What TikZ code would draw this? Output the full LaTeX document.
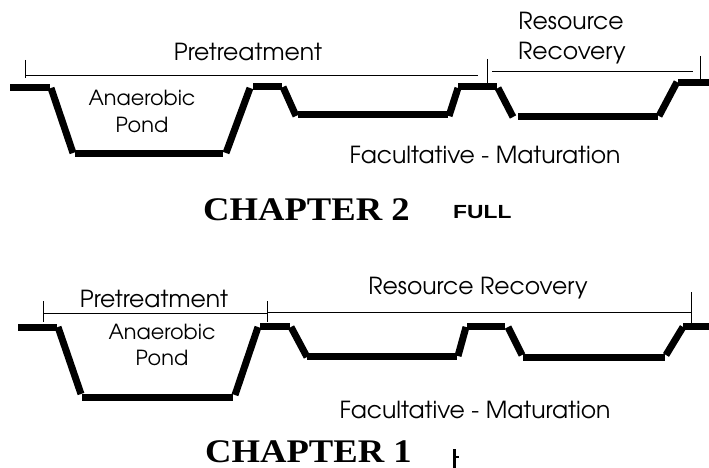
\documentclass[tikz,border=0pt]{standalone}
\usepackage{fontspec}
\newfontfamily\gothic{TeX Gyre Adventor}
\newfontfamily\timesb{Liberation Serif}
\newfontfamily\arialb{Liberation Sans}
\begin{document}
\begin{tikzpicture}[x=1pt,y=-1pt,
  pond/.style={line width=7pt,line cap=butt},
  dim/.style={line width=0.8pt},
  lbl/.style={inner sep=0pt,anchor=base,font=\gothic\fontsize{23.5}{28}\selectfont},
  slbl/.style={inner sep=0pt,anchor=base,font=\gothic\fontsize{20.8}{25}\selectfont},
  chap/.style={inner sep=0pt,anchor=base west,font=\timesb\bfseries\fontsize{33}{38}\selectfont,xscale=1.11},
  tag/.style={inner sep=0pt,anchor=base west,font=\arialb\bfseries\fontsize{19}{22}\selectfont,xscale=1.2}]
\useasboundingbox (0,0) rectangle (709,468);
% ---------- top profile ----------
\draw[pond] (10,88) -- (50,88);
\draw[pond] (51,88) -- (73,153);
\draw[pond] (75,153) -- (223,153);
\draw[pond] (226,153) -- (250,88);
\draw[pond] (253,86.5) -- (282,86.5);
\draw[pond] (283,87) -- (296,116);
\draw[pond] (298,115) -- (448,115);
\draw[pond] (449,116) -- (458,88);
\draw[pond] (458,87) -- (497,87);
\draw[pond] (498,88) -- (513,117);
\draw[pond] (518,117) -- (658,117);
\draw[pond] (659,116) -- (677,82);
\draw[pond] (678,83) -- (709,83);
% dimension lines top
\draw[dim] (25,75) -- (478,75);
\draw[dim] (25,60) -- (25,78);
\draw[dim] (487,59) -- (487,88);
\draw[dim] (492,71) -- (693,71);
\draw[dim] (700,56) -- (700,80);
% labels top
\node[lbl] (pt1) at (248,61) {Pretreatment};
\node[slbl] (an1) at (142,106) {Anaerobic};
\node[slbl] (po1) at (142,132) {Pond};
\node[lbl] (rs1) at (571,30) {Resource};
\node[lbl] (rc1) at (572,60) {Recovery};
\node[lbl] (fm1) at (485,163) {Facultative - Maturation};
\node[chap] (ch2) at (203,220) {CHAPTER 2};
\node[tag] (full) at (453,218) {FULL};
% ---------- bottom profile ----------
\draw[pond] (18,327) -- (57,327);
\draw[pond] (58,327) -- (81,394);
\draw[pond] (82,397) -- (233,397);
\draw[pond] (235,395) -- (258,327);
\draw[pond] (260,326) -- (290,326);
\draw[pond] (291,327) -- (307,357);
\draw[pond] (307,356) -- (457,356);
\draw[pond] (458,356) -- (466,327);
\draw[pond] (467,326) -- (505,326);
\draw[pond] (508,327) -- (522,355);
\draw[pond] (523,357) -- (665,357);
\draw[pond] (666,355) -- (683,327);
\draw[pond] (683,326) -- (709,326);
% dimension lines bottom
\draw[dim] (43,301) -- (43,322);
\draw[dim] (43,313) -- (267,313);
\draw[dim] (267,301) -- (267,322);
\draw[dim] (267,312) -- (691,312);
\draw[dim] (691,292) -- (691,323);
% labels bottom
\node[lbl] (pt2) at (154,307) {Pretreatment};
\node[slbl] (an2) at (162,339) {Anaerobic};
\node[slbl] (po2) at (162,365) {Pond};
\node[lbl] (rr2) at (478,294) {Resource Recovery};
\node[lbl] (fm2) at (475,418) {Facultative - Maturation};
\node[chap] (ch1) at (205,462) {CHAPTER 1};
\draw[line width=3pt] (454.5,449) -- (454.5,468);
\draw[line width=2.5pt] (456,457) -- (459,457);
\end{tikzpicture}
\end{document}
